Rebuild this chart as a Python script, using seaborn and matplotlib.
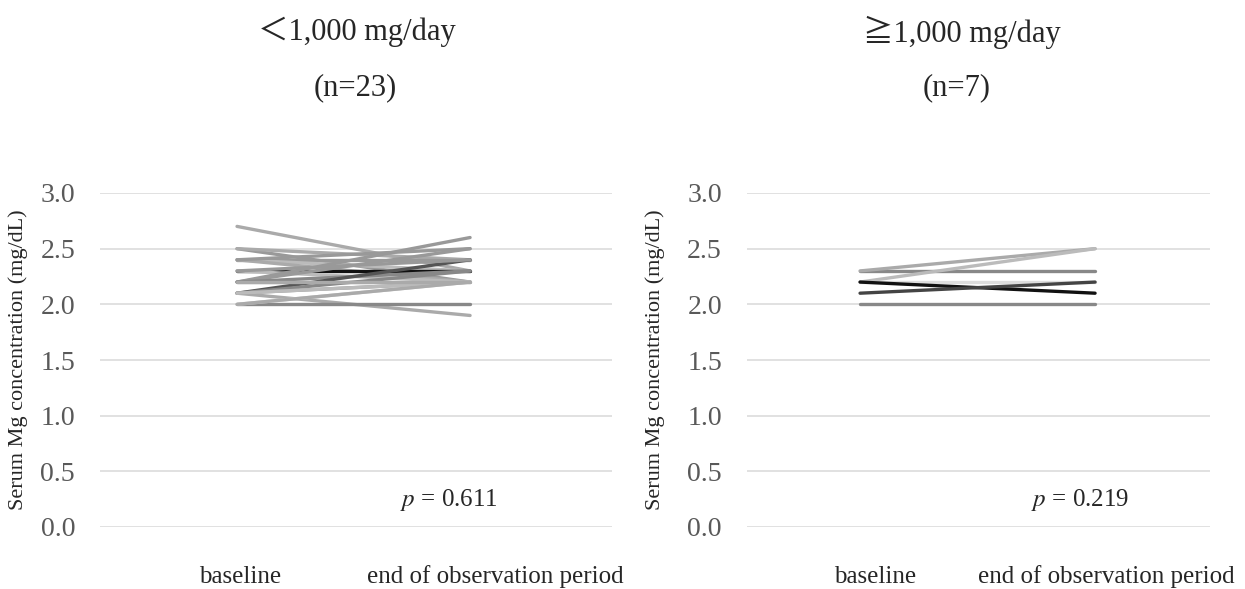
import matplotlib.pyplot as plt
import seaborn as sns
import pandas as pd

sns.set_style("white")
plt.rcParams['font.family'] = ['Liberation Serif', 'Noto Sans CJK JP', 'DejaVu Sans']
plt.rcParams['mathtext.fontset'] = 'stix'

periods = ['baseline', 'end of observation period']

# <1,000 mg/day group (n=23)
low_base = [2.7, 2.5, 2.5, 2.4, 2.4, 2.4, 2.3, 2.3, 2.2, 2.2, 2.2, 2.2,
            2.1, 2.1, 2.1, 2.1, 2.1, 2.0, 2.0, 2.0, 2.2, 2.4, 2.3]
low_end = [2.3, 2.2, 2.4, 2.4, 2.3, 2.2, 2.3, 2.2, 2.6, 2.5, 2.2, 2.3,
           2.4, 2.3, 1.9, 2.2, 2.2, 2.0, 2.2, 2.2, 2.2, 2.5, 2.4]
low_gray = ['#aaaaaa', '#999999', '#aaaaaa', '#999999', '#bbbbbb', '#aaaaaa',
            '#111111', '#bbbbbb', '#999999', '#999999', '#bbbbbb', '#888888',
            '#555555', '#888888', '#aaaaaa', '#999999', '#bbbbbb', '#888888',
            '#cccccc', '#aaaaaa', '#aaaaaa', '#999999', '#999999']
low_p = 0.611

# >=1,000 mg/day group (n=7)
high_base = [2.3, 2.3, 2.2, 2.2, 2.2, 2.1, 2.0]
high_end = [2.3, 2.5, 2.5, 2.2, 2.1, 2.2, 2.0]
high_gray = ['#888888', '#aaaaaa', '#bbbbbb', '#dddddd', '#111111', '#444444', '#888888']
high_p = 0.219


def make_df(base, end):
    rows = []
    for i, (b, e) in enumerate(zip(base, end)):
        rows.append({'id': i, 'period': 0, 'value': b})
        rows.append({'id': i, 'period': 1, 'value': e})
    return pd.DataFrame(rows)


def plot_panel(ax, base, end, grays, xlim, p, p_x):
    df = make_df(base, end)
    sns.lineplot(data=df, x='period', y='value', hue='id', units='id',
                 estimator=None, palette=grays, linewidth=2.4, legend=False, ax=ax)
    ax.set_xlim(*xlim)
    ax.set_ylim(0, 3.0)
    ax.set_yticks([0, 0.5, 1.0, 1.5, 2.0, 2.5, 3.0])
    ax.set_yticklabels(['%.1f' % v for v in [0, 0.5, 1.0, 1.5, 2.0, 2.5, 3.0]])
    ax.set_xticks([])
    ax.grid(axis='y', color='#d9d9d9', linewidth=1.1)
    ax.set_axisbelow(True)
    for s in ax.spines.values():
        s.set_visible(False)
    ax.tick_params(axis='y', length=0, pad=18, labelsize=20, labelcolor='#595959')
    ax.set_xlabel('')
    ax.set_ylabel('Serum Mg concentration (mg/dL)', fontsize=16)
    ax.text(p_x, 0.24, '$p$ = %.3f' % p, fontsize=18, ha='center', va='center')


fig = plt.figure(figsize=(12.45, 5.89), dpi=100)
ax1 = fig.add_axes([100 / 1245, 62 / 589, 512 / 1245, 334 / 589])
ax2 = fig.add_axes([747 / 1245, 62 / 589, 463 / 1245, 334 / 589])

plot_panel(ax1, low_base, low_end, low_gray, (-0.588, 1.609), low_p, 0.91)
plot_panel(ax2, high_base, high_end, high_gray, (-0.481, 1.489), high_p, 0.936)
ax1.yaxis.set_label_coords(-0.14, 0.5)
ax2.yaxis.set_label_coords(-0.177, 0.5)

fig.text(357 / 1245, 1 - 32 / 589, '＜1,000 mg/day', fontsize=22, ha='center', va='center')
fig.text(355 / 1245, 1 - 88 / 589, '(n=23)', fontsize=22, ha='center', va='center')
fig.text(962 / 1245, 1 - 32 / 589, '≧1,000 mg/day', fontsize=22, ha='center', va='center')
fig.text(957 / 1245, 1 - 88 / 589, '(n=7)', fontsize=22, ha='center', va='center')

for cx, lab in [(240, periods[0]), (495, periods[1]), (875, periods[0]), (1106, periods[1])]:
    fig.text(cx / 1245, 1 - 577 / 589, lab, fontsize=18, ha='center', va='center')

plt.savefig('out.png', dpi=100)
